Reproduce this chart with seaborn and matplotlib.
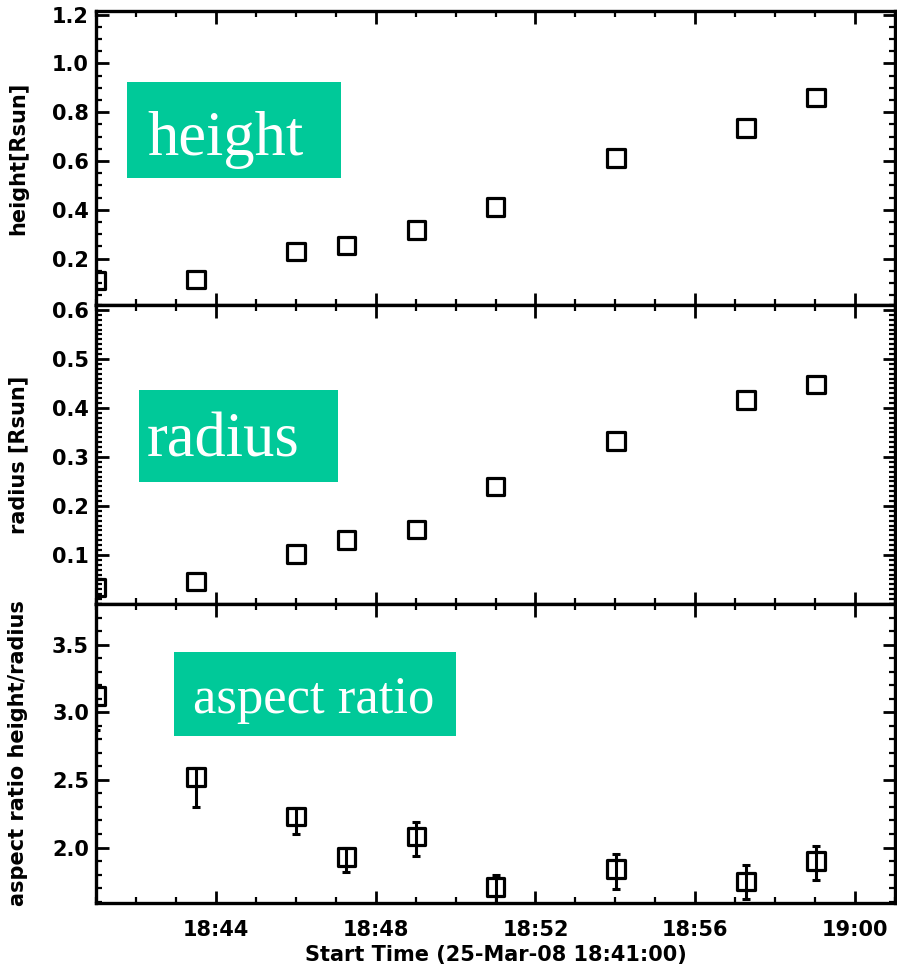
import matplotlib
matplotlib.use("Agg")
import matplotlib.pyplot as plt
import numpy as np
import pandas as pd
import seaborn as sns
from matplotlib.patches import Rectangle
from matplotlib.ticker import MultipleLocator, FixedLocator

# ---- data (minutes after 18:41:00) ----
minutes = [0.0, 2.5, 5.0, 6.27, 8.02, 10.0, 13.02, 16.27, 18.02]
height = [0.11, 0.114, 0.229, 0.253, 0.318, 0.412, 0.612, 0.735, 0.861]
radius = [0.034, 0.046, 0.102, 0.130, 0.152, 0.240, 0.332, 0.416, 0.448]
aspect = [3.12, 2.52, 2.23, 1.93, 2.08, 1.71, 1.84, 1.75, 1.90]
aspect_err_lo = [0.25, 0.22, 0.13, 0.11, 0.14, 0.13, 0.15, 0.13, 0.14]
aspect_err_hi = [0.08, 0.07, 0.06, 0.07, 0.11, 0.09, 0.11, 0.12, 0.11]
tick_minutes = [3, 7, 11, 15, 19]
tick_labels = ["18:44", "18:48", "18:52", "18:56", "19:00"]
panel_labels = ["height", "radius", "aspect ratio"]
y_titles = ["height[Rsun]", "radius [Rsun]", "aspect ratio height/radius"]
x_title = "Start Time (25-Mar-08 18:41:00)"
ytick_vals = [[0.2, 0.4, 0.6, 0.8, 1.0, 1.2],
              [0.1, 0.2, 0.3, 0.4, 0.5, 0.6],
              [2.0, 2.5, 3.0, 3.5]]
ytick_text = [["0.2", "0.4", "0.6", "0.8", "1.0", "1.2"],
              ["0.1", "0.2", "0.3", "0.4", "0.5", "0.6"],
              ["2.0", "2.5", "3.0", "3.5"]]

df = pd.DataFrame({"t": minutes, "height": height, "radius": radius,
                   "aspect": aspect})

sns.set_theme(style="white")
plt.rcParams["font.family"] = ["DejaVu Sans"]

W, H = 897, 974
fig = plt.figure(figsize=(W / 100, H / 100), dpi=100)
fig.patch.set_facecolor("white")

L, R = 96 / W, 895 / W
tops = [11, 305, 604]
bots = [305, 604, 903]
axes = []
for t, b in zip(tops, bots):
    ax = fig.add_axes([L, 1 - b / H, R - L, (b - t) / H])
    axes.append(ax)

cols = ["height", "radius", "aspect"]
ylims = [(0.01, 1.215), (0.0, 0.61), (1.59, 3.80)]
yminor = [0.05, 0.01, 0.1]
green = "#00C999"
lab_font = dict(fontsize=15, fontweight="bold", color="black")

for i, ax in enumerate(axes):
    sns.scatterplot(data=df, x="t", y=cols[i], marker="s", s=160,
                    facecolor="none", edgecolor="black", linewidth=2.3,
                    ax=ax, legend=False, zorder=3)
    ax.set_xlim(0, 20.0)
    ax.set_ylim(*ylims[i])
    ax.xaxis.set_major_locator(FixedLocator(tick_minutes))
    ax.xaxis.set_minor_locator(MultipleLocator(1))
    ax.set_yticks(ytick_vals[i])
    ax.set_yticklabels(ytick_text[i], fontweight="bold")
    ax.yaxis.set_minor_locator(MultipleLocator(yminor[i]))
    ax.tick_params(which="both", direction="in", top=True, right=True,
                   bottom=True, left=True, colors="black")
    ax.tick_params(which="major", length=9, width=2.0, labelsize=15)
    ax.tick_params(axis="y", which="major", pad=5)
    ax.tick_params(axis="x", which="major", pad=12)
    ax.tick_params(which="minor", length=4.5, width=1.6)
    for sp in ax.spines.values():
        sp.set_linewidth(2.4)
        sp.set_color("black")
    ax.set_ylabel(y_titles[i], **lab_font)
    ax.yaxis.set_label_coords(-0.085, 0.5)
    if i < 2:
        ax.set_xticklabels([])
        ax.set_xlabel("")
    else:
        ax.set_xticklabels(tick_labels, fontweight="bold")
        ax.set_xlabel(x_title, labelpad=4, **lab_font)

axes[2].errorbar(df["t"], df["aspect"], yerr=[aspect_err_lo, aspect_err_hi],
                 fmt="none", ecolor="black", elinewidth=2.2, capsize=3,
                 capthick=2.2, zorder=2)

# ---- green label boxes ----
boxes = [(127, 82, 341, 178), (139, 390, 338, 482), (174, 652, 456, 736)]
text_pos = [(147, 155, 45), (147, 457, 45), (193, 713, 38)]
for (x0, y0, x1, y1), (tx, ty, fs), lab in zip(boxes, text_pos, panel_labels):
    fig.add_artist(Rectangle((x0 / W, 1 - y1 / H), (x1 - x0) / W,
                             (y1 - y0) / H, transform=fig.transFigure,
                             facecolor=green, edgecolor="none", zorder=5))
    fig.text(tx / W, 1 - ty / H, lab, fontsize=fs, color="white",
             family=["Liberation Serif", "DejaVu Serif"], ha="left",
             va="baseline", zorder=6)

fig.savefig("out.png", dpi=100)
